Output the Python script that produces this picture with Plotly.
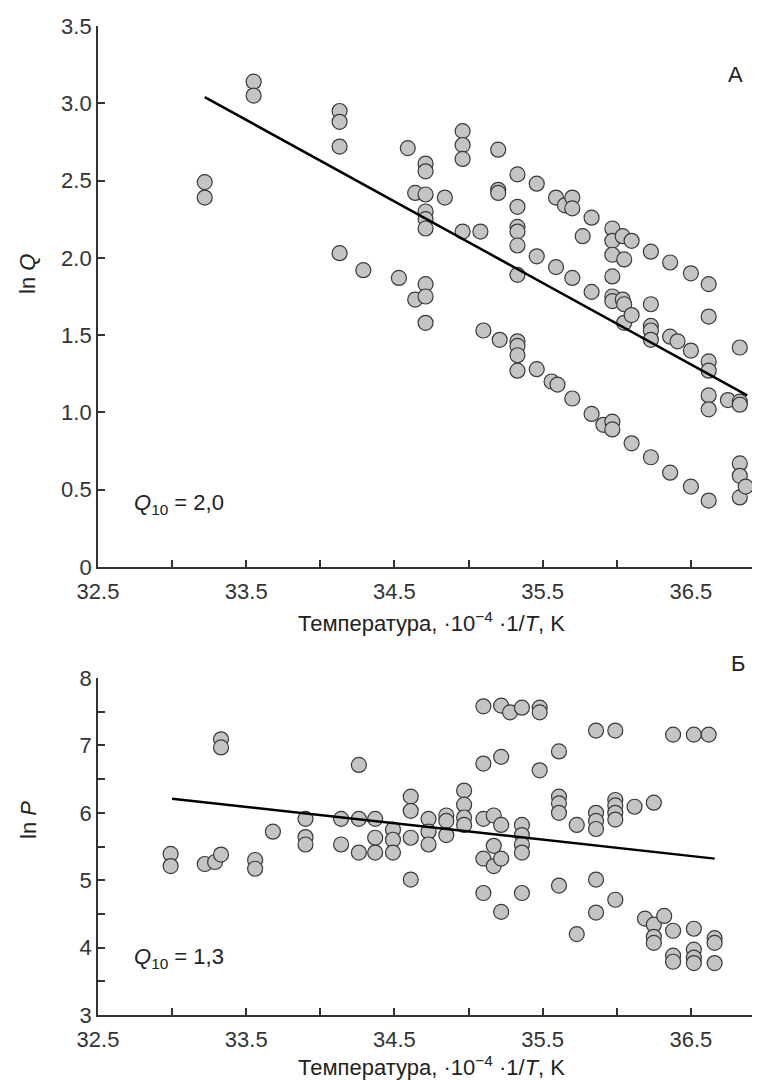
import plotly.graph_objects as go

# Panel A: ln Q vs 10^-4 * 1/T
q_temp = [33.22, 33.22, 33.55, 33.55, 34.13, 34.13, 34.13, 34.13, 34.29, 34.53,
          34.59, 34.64, 34.64, 34.71, 34.71, 34.71, 34.71, 34.71, 34.71, 34.71,
          34.71, 34.71, 34.84, 34.96, 34.96, 34.96, 34.96, 35.08, 35.10, 35.20,
          35.20, 35.20, 35.21, 35.33, 35.33, 35.33, 35.33, 35.33, 35.33, 35.33,
          35.33, 35.33, 35.33, 35.46, 35.46, 35.46, 35.56, 35.59, 35.59, 35.60,
          35.65, 35.70, 35.70, 35.70, 35.70, 35.77, 35.83, 35.83, 35.83, 35.91,
          35.97, 35.97, 35.97, 35.97, 35.97, 35.97, 35.97, 35.97, 36.04, 36.05,
          36.04, 36.05, 36.05, 36.10, 36.10, 36.10, 36.23, 36.23, 36.23, 36.23,
          36.23, 36.23, 36.36, 36.36, 36.36, 36.41, 36.50, 36.50, 36.50, 36.62,
          36.62, 36.62, 36.62, 36.62, 36.62, 36.62, 36.75, 36.83, 36.83, 36.83,
          36.83, 36.83, 36.83, 36.87]
q_ln = [2.49, 2.39, 3.14, 3.05, 2.95, 2.88, 2.72, 2.03, 1.92, 1.87,
        2.71, 2.42, 1.73, 2.61, 2.56, 2.41, 2.30, 2.25, 2.19, 1.83,
        1.75, 1.58, 2.39, 2.82, 2.73, 2.64, 2.17, 2.17, 1.53, 2.70,
        2.44, 2.42, 1.47, 2.54, 2.33, 2.20, 2.17, 2.08, 1.89, 1.46,
        1.43, 1.37, 1.27, 2.48, 2.01, 1.28, 1.20, 2.39, 1.94, 1.18,
        2.34, 2.39, 2.32, 1.87, 1.09, 2.14, 2.26, 1.78, 0.99, 0.92,
        2.19, 2.11, 2.02, 1.88, 1.75, 1.72, 0.94, 0.89, 2.14, 1.99,
        1.73, 1.70, 1.58, 2.11, 1.63, 0.80, 2.04, 1.70, 1.56, 1.53,
        1.47, 0.71, 1.97, 1.49, 0.61, 1.46, 1.90, 1.40, 0.52, 1.83,
        1.62, 1.33, 1.27, 1.11, 1.02, 0.43, 1.08, 1.42, 1.07, 1.05,
        0.67, 0.59, 0.45, 0.52]
q_fit_temp = [33.22, 36.88]
q_fit_ln = [3.04, 1.11]

# Panel Б: ln P vs 10^-4 * 1/T
p_temp = [32.99, 32.99, 33.22, 33.29, 33.33, 33.33, 33.33, 33.56, 33.56, 33.68,
          33.90, 33.90, 33.90, 34.14, 34.14, 34.26, 34.26, 34.26, 34.37, 34.37,
          34.37, 34.49, 34.49, 34.49, 34.61, 34.61, 34.61, 34.61, 34.73, 34.73,
          34.73, 34.85, 34.85, 34.85, 34.97, 34.97, 34.97, 34.97, 35.10, 35.10,
          35.10, 35.10, 35.10, 35.17, 35.17, 35.17, 35.22, 35.22, 35.22, 35.22,
          35.22, 35.28, 35.36, 35.36, 35.36, 35.36, 35.36, 35.36, 35.48, 35.48,
          35.48, 35.61, 35.61, 35.61, 35.61, 35.61, 35.73, 35.73, 35.86, 35.86,
          35.86, 35.86, 35.86, 35.86, 35.99, 35.99, 35.99, 35.99, 35.99, 35.99,
          36.12, 36.19, 36.25, 36.25, 36.25, 36.25, 36.32, 36.38, 36.38, 36.38,
          36.38, 36.52, 36.52, 36.52, 36.52, 36.52, 36.62, 36.66, 36.66, 36.66]
p_ln = [5.39, 5.21, 5.24, 5.27, 7.09, 6.97, 5.38, 5.30, 5.17, 5.72,
        5.91, 5.64, 5.53, 5.91, 5.53, 6.71, 5.91, 5.41, 5.91, 5.63,
        5.41, 5.75, 5.60, 5.41, 6.24, 6.03, 5.63, 5.01, 5.91, 5.72,
        5.53, 5.96, 5.88, 5.67, 6.33, 6.12, 5.93, 5.82, 7.58, 6.73,
        5.91, 5.32, 4.81, 5.96, 5.51, 5.21, 7.59, 6.83, 5.82, 5.32,
        4.53, 7.49, 7.56, 5.82, 5.67, 5.53, 5.41, 4.81, 7.56, 7.49,
        6.63, 6.91, 6.24, 6.14, 6.00, 4.92, 5.82, 4.20, 7.22, 6.00,
        5.88, 5.76, 5.01, 4.52, 7.22, 6.19, 6.11, 6.00, 5.90, 4.71,
        6.09, 4.43, 6.15, 4.34, 4.16, 4.07, 4.47, 7.16, 4.25, 3.88,
        3.79, 7.16, 4.28, 3.97, 3.85, 3.77, 7.16, 4.14, 4.07, 3.77]
p_fit_temp = [33.0, 36.66]
p_fit_ln = [6.21, 5.32]

x_ticks = [32.5, 33.5, 34.5, 35.5, 36.5]
q_ticks = [0, 0.5, 1.0, 1.5, 2.0, 2.5, 3.0, 3.5]
q_tick_text = ["0", "0.5", "1.0", "1.5", "2.0", "2.5", "3.0", "3.5"]
p_ticks = [3, 4, 5, 6, 7, 8]

FONT = "Liberation Sans, Arial, sans-serif"
AXC = "#333333"
W, H = 760, 1080

marker = dict(size=15, color="#c4c4c4", line=dict(color="#3a3a3a", width=1.2))

fig = go.Figure()
fig.add_trace(go.Scatter(x=q_temp, y=q_ln, mode="markers", marker=marker,
                         xaxis="x", yaxis="y"))
fig.add_trace(go.Scatter(x=q_fit_temp, y=q_fit_ln, mode="lines",
                         line=dict(color="black", width=2.5), xaxis="x", yaxis="y"))
fig.add_trace(go.Scatter(x=p_temp, y=p_ln, mode="markers", marker=marker,
                         xaxis="x2", yaxis="y2"))
fig.add_trace(go.Scatter(x=p_fit_temp, y=p_fit_ln, mode="lines",
                         line=dict(color="black", width=2.5), xaxis="x2", yaxis="y2"))

# pixel -> paper helpers
def px(x):
    return x / W

def py(y):
    return 1 - y / H

tickfont = dict(family=FONT, size=22, color="#333")
xcommon = dict(range=[32.5, 37.0], tickmode="array", tickvals=x_ticks,
               ticks="inside", ticklen=7, tickwidth=1.5, tickcolor=AXC,
               minor=dict(tickmode="array", tickvals=[33.0, 34.0, 35.0, 36.0, 37.0],
                          ticks="inside", ticklen=7, tickwidth=1.5, tickcolor=AXC),
               showline=True, linecolor=AXC, linewidth=1.8, showgrid=False,
               zeroline=False, tickfont=tickfont, ticklabelstandoff=4,
               automargin=False, fixedrange=True)

fig.update_layout(
    width=W, height=H,
    margin=dict(l=0, r=0, t=0, b=0),
    paper_bgcolor="white", plot_bgcolor="white",
    showlegend=False,
    xaxis=dict(xcommon, domain=[px(90), px(757)], anchor="y"),
    yaxis=dict(range=[0, 3.5], domain=[py(559), py(18)], anchor="x",
               tickmode="array", tickvals=q_ticks, ticktext=q_tick_text,
               ticks="inside", ticklen=7, tickwidth=1.5, tickcolor=AXC,
               showline=True, linecolor=AXC, linewidth=1.8, showgrid=False,
               zeroline=False, tickfont=tickfont, automargin=False),
    xaxis2=dict(xcommon, domain=[px(90), px(757)], anchor="y2"),
    yaxis2=dict(range=[3, 8], domain=[py(1007), py(670)], anchor="x2",
                tickmode="array", tickvals=p_ticks,
                minor=dict(tickmode="array", tickvals=[3.5, 4.5, 5.5, 6.5, 7.5],
                           ticks="inside", ticklen=7, tickwidth=1.5, tickcolor=AXC),
                ticks="inside", ticklen=7, tickwidth=1.5, tickcolor=AXC,
                showline=True, linecolor=AXC, linewidth=1.8, showgrid=False,
                zeroline=False, tickfont=tickfont, automargin=False),
)

xtitle = "Температура, ·10<sup>−4</sup> ·1/<i>T</i>, K"
txt = dict(family=FONT, size=22, color="#222")
ann = [
    dict(x=px(424), y=py(614), text=xtitle),
    dict(x=px(424), y=py(1058), text=xtitle),
    dict(x=px(20), y=py(266), text="ln <i>Q</i>", textangle=-90),
    dict(x=px(20), y=py(812), text="ln <i>P</i>", textangle=-90),
    dict(x=px(727), y=py(66), text="А"),
    dict(x=px(730), y=py(655), text="Б"),
    dict(x=px(124), y=py(496), text="<i>Q</i><sub>10</sub> = 2,0", xanchor="left"),
    dict(x=px(124), y=py(950), text="<i>Q</i><sub>10</sub> = 1,3", xanchor="left"),
]
for a in ann:
    a.setdefault("xanchor", "center")
    fig.add_annotation(xref="paper", yref="paper", showarrow=False,
                       yanchor="middle", font=txt, **a)

fig.write_html("out.html")
